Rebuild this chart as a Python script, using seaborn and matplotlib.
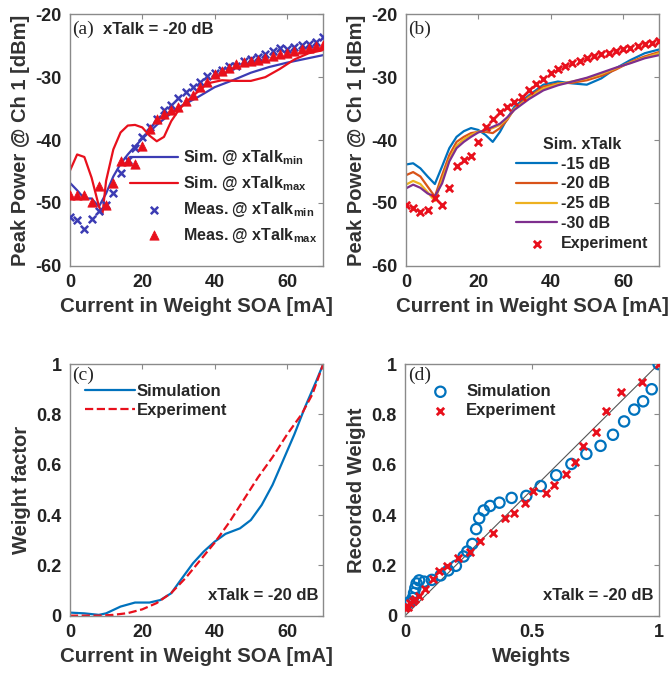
import numpy as np
import matplotlib
matplotlib.use("Agg")
import matplotlib.pyplot as plt
import seaborn as sns

# ---- panel (a): peak power vs current, xTalk = -20 dB ----
cur_meas = [0, 2, 4, 6, 8, 10, 12, 14, 16, 18, 20, 22, 24, 26, 28, 30, 32, 34,
            36, 38, 40, 42, 44, 46, 48, 50, 52, 54, 56, 58, 60, 62, 64, 66, 68, 70]
meas_min = [-52.2, -52.7, -54.2, -52.6, -51.3, -50.3, -48.4, -45.2, -43.2, -41.3,
            -39.6, -37.9, -36.7, -35.2, -34.4, -33.3, -32.4, -31.6, -30.7, -29.9,
            -29.4, -28.8, -28.3, -28.3, -27.5, -27.1, -26.8, -26.3, -25.8, -25.4,
            -25.6, -25.2, -24.9, -24.7, -24.4, -23.6]
meas_max = [-48.8, -48.7, -48.8, -49.8, -47.3, -50.3, -46.9, -43.3, -43.4, -43.8,
            -41.0, -38.2, -36.6, -35.8, -35.2, -34.7, -33.8, -32.9, -31.6, -30.7,
            -29.5, -29.0, -28.5, -27.9, -27.6, -27.4, -27.2, -26.9, -26.7, -26.4,
            -26.2, -25.8, -25.5, -25.4, -25.1, -24.9]

cur_sim_min = [0, 2, 4, 6, 8, 10, 12, 14, 16, 18, 20, 24, 30, 35, 40, 45, 50, 55, 60, 65, 70]
sim_min = [-46.8, -48.0, -49.3, -49.3, -50.6, -48.5, -45.8, -43.8, -42.3, -41.0,
           -39.8, -37.6, -34.8, -33.3, -31.6, -30.5, -29.3, -28.4, -27.7, -27.1, -26.5]

cur_sim_max = [0, 2, 4, 6, 8, 9, 10, 12, 14, 16, 18, 20, 22, 24, 26, 28, 30, 32, 34,
               38, 42, 46, 50, 54, 58, 62, 66, 70]
sim_max = [-44.9, -42.3, -42.7, -46.0, -50.5, -51.8, -46.5, -41.5, -38.8, -37.7,
           -37.6, -38.0, -39.3, -40.2, -39.5, -37.0, -35.3, -34.0, -33.0, -31.0,
           -30.5, -30.6, -30.6, -30.0, -28.7, -27.2, -26.2, -25.7]

# ---- panel (b): simulated xTalk sweep vs experiment ----
cur_b = [0, 2, 4, 6, 8, 10, 12, 14, 16, 18, 20, 22, 24, 26, 28, 30, 34, 38, 42,
         46, 50, 54, 58, 62, 66, 70]
xt_15 = [-43.9, -43.7, -44.5, -45.8, -47.0, -44.2, -41.3, -39.5, -38.6, -38.1,
         -38.4, -39.2, -40.3, -38.7, -36.6, -34.7, -32.9, -31.2, -30.7, -31.0,
         -31.2, -30.2, -28.6, -27.3, -26.2, -25.6]
xt_20 = [-45.6, -45.1, -45.8, -47.4, -49.0, -45.6, -42.4, -40.3, -39.5, -38.9,
         -38.7, -38.7, -38.9, -38.1, -36.8, -35.0, -33.1, -31.5, -31.0, -30.9,
         -30.5, -29.8, -28.8, -27.6, -26.7, -26.0]
xt_25 = [-47.1, -46.5, -47.0, -48.3, -49.7, -46.3, -43.1, -40.9, -39.9, -39.2,
         -38.7, -38.5, -38.1, -37.6, -36.6, -35.1, -33.3, -31.8, -31.1, -30.7,
         -30.2, -29.5, -28.6, -27.7, -26.9, -26.2]
xt_30 = [-47.7, -47.1, -47.6, -48.5, -49.0, -46.9, -43.4, -41.3, -40.3, -39.5,
         -38.8, -38.4, -37.9, -37.4, -36.4, -35.2, -33.5, -32.1, -31.3, -30.7,
         -30.1, -29.3, -28.5, -27.8, -27.0, -26.5]
exp_b = [-50.4, -50.8, -51.4, -51.2, -49.3, -50.3, -47.7, -44.2, -43.2, -42.6,
         -40.3, -38.0, -36.6, -35.5, -34.8, -34.0, -33.1, -32.0, -31.1, -30.3,
         -29.4, -28.7, -28.2, -27.8, -27.4, -27.0, -26.7, -26.4, -26.1, -25.8,
         -25.6, -25.3, -25.1, -24.7, -24.5, -24.2]

# ---- panel (c): weight factor vs current ----
cur_c_sim = [0, 4, 8, 10, 14, 18, 22, 25, 28, 31, 34, 37, 40, 43, 47, 50, 53, 56,
             59, 62, 65, 68, 70]
wf_sim = [0.012, 0.009, 0.003, 0.009, 0.036, 0.052, 0.052, 0.062, 0.089, 0.149,
          0.208, 0.255, 0.294, 0.325, 0.347, 0.38, 0.44, 0.52, 0.62, 0.72, 0.83,
          0.93, 1.0]
cur_c_exp = [0, 8, 12, 16, 20, 24, 28, 32, 36, 40, 44, 48, 52, 56, 60, 64, 67, 70]
wf_exp = [0.0, 0.0, 0.003, 0.010, 0.025, 0.05, 0.09, 0.15, 0.22, 0.29, 0.37,
          0.46, 0.55, 0.63, 0.72, 0.80, 0.88, 1.0]

# ---- panel (d): recorded vs target weights ----
w_sim = [0.0, 0.01, 0.02, 0.03, 0.035, 0.04, 0.045, 0.055, 0.075, 0.105, 0.14,
         0.17, 0.2, 0.23, 0.245, 0.265, 0.28, 0.292, 0.31, 0.335, 0.372, 0.42,
         0.478, 0.535, 0.596, 0.656, 0.715, 0.771, 0.82, 0.864, 0.904, 0.939,
         0.973, 1.0]
rec_sim = [0.045, 0.05, 0.055, 0.07, 0.09, 0.11, 0.128, 0.14, 0.135, 0.142, 0.16,
           0.18, 0.198, 0.235, 0.255, 0.285, 0.344, 0.387, 0.418, 0.436, 0.449,
           0.468, 0.476, 0.515, 0.558, 0.603, 0.643, 0.675, 0.719, 0.772, 0.819,
           0.852, 0.90, 1.0]
w_exp = [0.0, 0.005, 0.01, 0.02, 0.03, 0.04, 0.053, 0.079, 0.109, 0.132, 0.165,
         0.207, 0.255, 0.297, 0.347, 0.392, 0.431, 0.472, 0.504, 0.557, 0.587,
         0.636, 0.669, 0.702, 0.755, 0.792, 0.851, 0.933, 1.0]
rec_exp = [0.03, 0.04, 0.035, 0.05, 0.06, 0.065, 0.078, 0.105, 0.145, 0.178,
           0.198, 0.231, 0.251, 0.298, 0.328, 0.387, 0.407, 0.446, 0.496, 0.489,
           0.52, 0.562, 0.609, 0.676, 0.729, 0.812, 0.889, 0.927, 1.0]

sns.set_style("white")
plt.rcParams['font.family'] = ['Liberation Sans', 'DejaVu Sans']
plt.rcParams['font.weight'] = 'bold'
plt.rcParams['axes.unicode_minus'] = False
plt.rcParams['mathtext.fontset'] = 'custom'
plt.rcParams['mathtext.rm'] = 'Liberation Sans:bold'
plt.rcParams['mathtext.bf'] = 'Liberation Sans:bold'
plt.rcParams['mathtext.it'] = 'Liberation Sans:bold'

BLUE_A = '#3c3cb4'
RED = '#e8101c'
M_BLUE = '#0072bd'
M_ORANGE = '#d95319'
M_YELLOW = '#edb120'
M_PURPLE = '#7e2f8e'
GRAY = '#8a8a8a'
TXT = '#333333'
XLAB_FS = 14.8
YLAB_FS = 14.5

fig = plt.figure(figsize=(6.72, 6.78), dpi=100)
ax_a = fig.add_axes([0.104, 0.608, 0.377, 0.371])
ax_b = fig.add_axes([0.604, 0.608, 0.377, 0.371])
ax_c = fig.add_axes([0.104, 0.092, 0.377, 0.371])
ax_d = fig.add_axes([0.603, 0.092, 0.377, 0.371])


def style_axis(ax):
    for sp in ax.spines.values():
        sp.set_color(GRAY)
        sp.set_linewidth(1.0)
    ax.tick_params(direction='in', length=3.5, width=0.8, color=GRAY,
                   top=True, right=True, labelsize=13, pad=6)
    for lab in ax.get_xticklabels() + ax.get_yticklabels():
        lab.set_fontweight('bold')
        lab.set_color('#222222')


# (a)
sns.lineplot(x=cur_sim_min, y=sim_min, ax=ax_a, color=BLUE_A, lw=1.6,
             label=r'Sim. @ xTalk$_{\mathrm{min}}$', sort=False)
sns.lineplot(x=cur_sim_max, y=sim_max, ax=ax_a, color=RED, lw=1.6,
             label=r'Sim. @ xTalk$_{\mathrm{max}}$', sort=False)
sns.scatterplot(x=cur_meas, y=meas_min, ax=ax_a, color=BLUE_A, marker='x', s=28,
                linewidth=1.8, label=r'Meas. @ xTalk$_{\mathrm{min}}$', zorder=3)
sns.scatterplot(x=cur_meas, y=meas_max, ax=ax_a, color=RED, marker='^', s=45,
                edgecolor=RED, label=r'Meas. @ xTalk$_{\mathrm{max}}$', zorder=3)
ax_a.set_xlim(0, 70)
ax_a.set_ylim(-60, -20)
ax_a.set_xticks([0, 20, 40, 60])
ax_a.set_yticks([-60, -50, -40, -30, -20])
ax_a.set_xlabel('Current in Weight SOA [mA]', fontsize=XLAB_FS, fontweight='bold', color=TXT)
ax_a.set_ylabel('Peak Power @ Ch 1 [dBm]', fontsize=YLAB_FS, fontweight='bold', color=TXT)
ax_a.text(0.01, 0.975, '(a)', transform=ax_a.transAxes, va='top', ha='left',
          fontsize=14, family='Liberation Serif', fontweight='normal')
ax_a.text(0.13, 0.97, 'xTalk = -20 dB', transform=ax_a.transAxes, va='top',
          ha='left', fontsize=12, fontweight='bold')
ax_a.legend(loc='lower right', bbox_to_anchor=(1.02, 0.04), frameon=False,
            fontsize=11.5, handlelength=3.0, handletextpad=0.3, labelspacing=0.42,
            borderpad=0.2)
style_axis(ax_a)

# (b)
sns.lineplot(x=cur_b, y=xt_15, ax=ax_b, color=M_BLUE, lw=1.6, label='-15 dB')
sns.lineplot(x=cur_b, y=xt_20, ax=ax_b, color=M_ORANGE, lw=1.6, label='-20 dB')
sns.lineplot(x=cur_b, y=xt_25, ax=ax_b, color=M_YELLOW, lw=1.6, label='-25 dB')
sns.lineplot(x=cur_b, y=xt_30, ax=ax_b, color=M_PURPLE, lw=1.6, label='-30 dB')
sns.scatterplot(x=cur_meas, y=exp_b, ax=ax_b, color=RED, marker='x', s=28,
                linewidth=2.0, label='Experiment', zorder=3)
ax_b.set_xlim(0, 70)
ax_b.set_ylim(-60, -20)
ax_b.set_xticks([0, 20, 40, 60])
ax_b.set_yticks([-60, -50, -40, -30, -20])
ax_b.set_xlabel('Current in Weight SOA [mA]', fontsize=XLAB_FS, fontweight='bold', color=TXT)
ax_b.set_ylabel('Peak Power @ Ch 1 [dBm]', fontsize=YLAB_FS, fontweight='bold', color=TXT)
ax_b.text(0.01, 0.975, '(b)', transform=ax_b.transAxes, va='top', ha='left',
          fontsize=14, family='Liberation Serif', fontweight='normal')
leg_b = ax_b.legend(loc='lower right', bbox_to_anchor=(1.0, 0.015), frameon=False,
                    fontsize=11.5, title='Sim. xTalk', handlelength=2.6,
                    handletextpad=0.2, labelspacing=0.3, borderpad=0.2)
leg_b.get_title().set_fontweight('bold')
leg_b.get_title().set_fontsize(11.5)
style_axis(ax_b)

# (c)
sns.lineplot(x=cur_c_sim, y=wf_sim, ax=ax_c, color=M_BLUE, lw=1.6, label='Simulation')
sns.lineplot(x=cur_c_exp, y=wf_exp, ax=ax_c, color=RED, lw=1.6, linestyle='--',
             label='Experiment')
ax_c.set_xlim(0, 70)
ax_c.set_ylim(0, 1)
ax_c.set_xticks([0, 20, 40, 60])
ax_c.set_yticks([0, 0.2, 0.4, 0.6, 0.8, 1])
ax_c.set_yticklabels(['0', '0.2', '0.4', '0.6', '0.8', '1'])
ax_c.set_xlabel('Current in Weight SOA [mA]', fontsize=XLAB_FS, fontweight='bold', color=TXT)
ax_c.set_ylabel('Weight factor', fontsize=YLAB_FS, fontweight='bold', color=TXT)
ax_c.text(0.01, 0.99, '(c)', transform=ax_c.transAxes, va='top', ha='left',
          fontsize=14, family='Liberation Serif', fontweight='normal')
ax_c.text(0.98, 0.05, 'xTalk = -20 dB', transform=ax_c.transAxes, va='bottom',
          ha='right', fontsize=12, fontweight='bold')
ax_c.legend(loc='upper left', bbox_to_anchor=(0.02, 0.96), frameon=False,
            fontsize=12, handlelength=3.0, handletextpad=0.1, labelspacing=0.25,
            borderpad=0.1)
style_axis(ax_c)

# (d)
ax_d.plot([0, 1], [0, 1], color='#555555', lw=0.8, zorder=1)
sns.scatterplot(x=w_sim, y=rec_sim, ax=ax_d, marker='o', s=55, facecolor='none',
                edgecolor=M_BLUE, linewidth=1.6, label='Simulation', zorder=3)
sns.scatterplot(x=w_exp, y=rec_exp, ax=ax_d, color=RED, marker='x', s=28,
                linewidth=2.0, label='Experiment', zorder=4)
ax_d.set_xlim(0, 1)
ax_d.set_ylim(0, 1)
ax_d.set_xticks([0, 0.5, 1])
ax_d.set_xticklabels(['0', '0.5', '1'])
ax_d.set_yticks([0, 0.2, 0.4, 0.6, 0.8, 1])
ax_d.set_yticklabels(['0', '0.2', '0.4', '0.6', '0.8', '1'])
ax_d.set_xlabel('Weights', fontsize=XLAB_FS, fontweight='bold', color=TXT)
ax_d.set_ylabel('Recorded Weight', fontsize=YLAB_FS, fontweight='bold', color=TXT)
ax_d.text(0.01, 0.99, '(d)', transform=ax_d.transAxes, va='top', ha='left',
          fontsize=14, family='Liberation Serif', fontweight='normal')
ax_d.text(0.98, 0.05, 'xTalk = -20 dB', transform=ax_d.transAxes, va='bottom',
          ha='right', fontsize=12, fontweight='bold')
ax_d.legend(loc='upper left', bbox_to_anchor=(0.05, 0.96), frameon=False,
            fontsize=12, handlelength=1.5, handletextpad=0.8, labelspacing=0.25,
            borderpad=0.1)
style_axis(ax_d)

fig.savefig('out.png', dpi=100)
plt.close(fig)
